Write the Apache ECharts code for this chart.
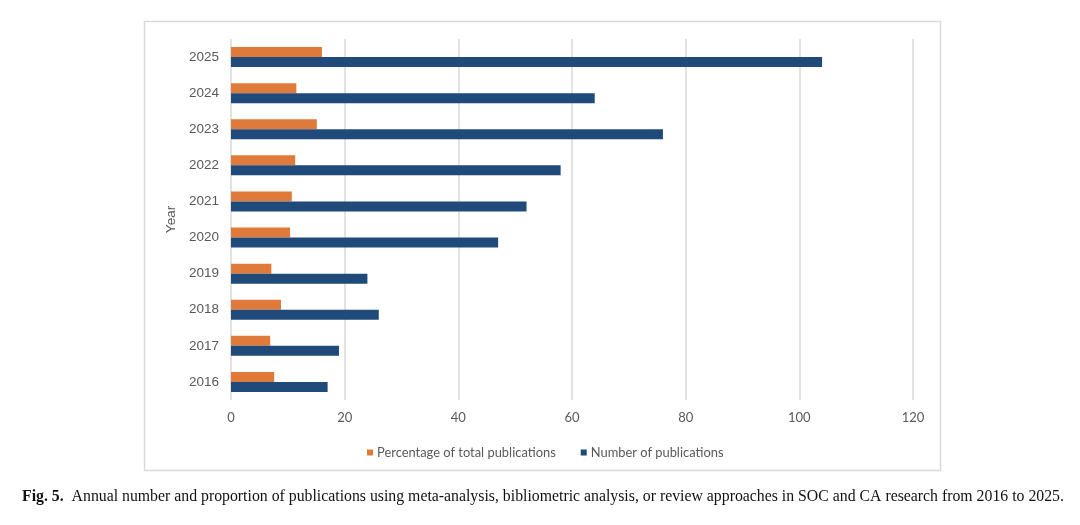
<!DOCTYPE html>
<html><head><meta charset="utf-8">
<script src="https://cdn.jsdelivr.net/npm/echarts@6/dist/echarts.min.js"></script>
<style>html,body{margin:0;padding:0;background:#fff}#c{width:1080px;height:525px}</style>
</head><body><div id="c"></div>
<script>
const years = ['2016','2017','2018','2019','2020','2021','2022','2023','2024','2025'];
const percentage = [7.6, 6.9, 8.8, 7.1, 10.4, 10.7, 11.3, 15.1, 11.5, 16.0];
const numberPubs = [17, 19, 26, 24, 47, 52, 58, 76, 64, 104];
const xTicks = [0, 20, 40, 60, 80, 100, 120];
const seriesNames = ['Percentage of total publications', 'Number of publications'];

const chart = echarts.init(document.getElementById('c'), null, {renderer:'canvas'});
chart.setOption({
  animation:false,
  backgroundColor:'#fff',
  graphic:[
    {type:'rect', shape:{x:144.5,y:21.5,width:796,height:449}, style:{fill:'none',stroke:'#d9d9d9',lineWidth:1.5}, silent:true},
    {type:'text', left:22, top:489, style:{
      text:'{b|Fig. 5.}  Annual number and proportion of publications using meta-analysis, bibliometric analysis, or review approaches in SOC and CA research from 2016 to 2025.',
      rich:{b:{fontWeight:'bold',fontFamily:'Liberation Serif',fontSize:15.8,fill:'#111'}},
      fontFamily:'Liberation Serif', fontSize:15.8, fill:'#111'}}
  ],
  legend:{
    data:seriesNames, left:362, top:441, itemWidth:6, itemHeight:6, itemGap:25,
    icon:'rect', textStyle:{color:'#595959',fontSize:12.9,fontFamily:'Lato',padding:[0,0,0,-1]}
  },
  grid:{left:231, right:167, top:39, bottom:125, containLabel:false},
  xAxis:{
    type:'value', min:xTicks[0], max:xTicks[xTicks.length-1], interval:20,
    axisLine:{show:false}, axisTick:{show:false},
    splitLine:{lineStyle:{color:'#d9d9d9',width:1.5}},
    axisLabel:{color:'#595959',fontSize:13,fontFamily:'Lato',margin:11}
  },
  yAxis:{
    type:'category', data:years,
    name:'Year', nameLocation:'middle', nameGap:46, nameRotate:90,
    nameTextStyle:{color:'#595959',fontSize:13.5,fontFamily:'Liberation Sans'},
    axisLine:{show:false}, axisTick:{show:false},
    axisLabel:{color:'#595959',fontSize:13.5,fontFamily:'Liberation Sans',margin:12}
  },
  series:[
    {name:seriesNames[0], type:'bar', data:percentage, barWidth:10, barGap:'0%',
     itemStyle:{color:'#E07A3A'}},
    {name:seriesNames[1], type:'bar', data:numberPubs, barWidth:10, barGap:'0%',
     itemStyle:{color:'#1F4A7A'}}
  ]
});
</script></body></html>
